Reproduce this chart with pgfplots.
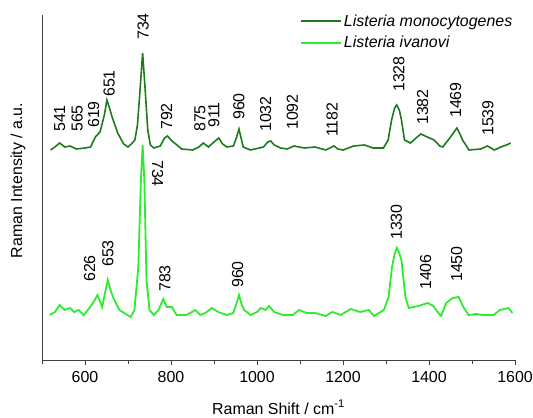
\documentclass[border=0pt]{standalone}
\usepackage{pgfplots}
\pgfplotsset{compat=1.18}
\usepackage{fontspec}
\setmainfont{Liberation Sans}
\definecolor{dkg}{RGB}{30,122,30}
\definecolor{ltg}{RGB}{45,235,45}
\begin{document}
\begin{tikzpicture}[font=\fontsize{16}{19}\selectfont]
\begin{axis}[
 at={(0,0)}, anchor=south west,
 scale only axis, width=473bp, height=345bp,
 xmin=500, xmax=1600, ymin=0, ymax=345,
 axis lines*=left,
 axis line style={draw=black!75, line width=1pt},
 ytick=\empty,
 xtick={600,800,...,1600},
 minor xtick={500,700,...,1500},
 tick align=outside,
 major tick length=5bp, minor tick length=4bp,
 tick style={black!75, line width=0.9pt},
 /pgf/number format/assume math mode=true,
 /pgf/number format/1000 sep={},
 xticklabel style={yshift=-3bp},
 xlabel={Raman Shift / cm\textsuperscript{-1}},
 ylabel={Raman Intensity / a.u.},
 xlabel style={at={(axis description cs:0.5,0)}, anchor=base, yshift=-54bp},
 ylabel style={at={(axis description cs:0,0.52)}, anchor=base, yshift=20bp},
 legend style={at={(axis description cs:0.546,1.005)}, anchor=north west, draw=none, fill=none,
   font=\itshape\fontsize{16}{19}\selectfont, row sep=5bp, inner sep=0pt, nodes={inner sep=1.5bp}},
 legend cell align=left,
 legend image code/.code={\draw[#1, line width=2pt] (0bp,0bp) -- (40bp,0bp);},
 clip=false,
]
\addplot[dkg, line width=1.6pt] coordinates {
(520,210) (530,213) (541,217) (553,213) (565,214) (580,211) (600,212) (613,213) (624,223) (635,228) (645,245) (651,260) (657,252) (663,243) (676,227) (690,216) (700,213) (710,217) (716,220) (722,235) (728,270) (734,307) (740,270) (746,230) (752,215) (760,212) (775,214) (785,222) (792,224) (800,220) (808,217) (825,211) (850,210) (865,213) (875,217) (887,213) (900,218) (911,222) (920,216) (930,213) (945,214) (952,222) (958,231) (963,222) (968,213) (985,210) (1015,213) (1025,218) (1032,219) (1040,215) (1055,212) (1070,211) (1086,214) (1110,212) (1135,213) (1160,210) (1179,214) (1188,211) (1200,210) (1225,214) (1250,215) (1270,212) (1294,212) (1305,220) (1313,240) (1320,252) (1325,255) (1331,250) (1336,240) (1343,220) (1357,217) (1370,222) (1381,226) (1396,223) (1412,220) (1425,214) (1432,213) (1450,223) (1465,232) (1472,226) (1478,220) (1493,210) (1520,211) (1536,214) (1552,210) (1567,213) (1580,215) (1590,217)
};
\addlegendentry{Listeria monocytogenes}
\addplot[ltg, line width=1.8pt] coordinates {
(518,45) (530,48) (541,55) (553,50) (565,52) (575,48) (585,50) (597,45) (612,53) (620,58) (629,65) (640,53) (647,68) (653,80) (658,72) (665,63) (680,50) (695,46) (706,43) (715,50) (724,93) (730,180) (734,215) (738,180) (743,80) (750,50) (760,45) (771,50) (782,61) (790,53) (802,53) (813,45) (836,45) (857,50) (868,45) (880,47) (895,52) (910,48) (930,45) (945,47) (952,56) (958,65) (964,56) (970,50) (985,45) (1000,48) (1009,52) (1020,50) (1028,54) (1040,48) (1060,45) (1083,45) (1098,50) (1115,47) (1135,47) (1160,44) (1175,48) (1195,45) (1218,51) (1240,48) (1260,50) (1272,44) (1295,50) (1306,63) (1314,93) (1320,106) (1325,112) (1330,108) (1336,100) (1345,63) (1353,52) (1375,54) (1397,57) (1410,54) (1420,48) (1428,44) (1440,57) (1455,62) (1469,63) (1480,53) (1492,45) (1510,46) (1525,45) (1550,45) (1565,50) (1585,52) (1594,47)
};
\addlegendentry{Listeria ivanovi}
% labels, upper spectrum
\begin{scope}[every node/.style={rotate=90, anchor=west, inner sep=0pt, font=\fontsize{16}{19}\selectfont}]
\node at (axis cs:541,228) {541};
\node at (axis cs:582,228) {565};
\node at (axis cs:620,232) {619};
\node at (axis cs:656,263) {651};
\node at (axis cs:735,320) {734};
\node at (axis cs:790,230) {792};
\node at (axis cs:867,228) {875};
\node at (axis cs:900,232) {911};
\node at (axis cs:958,240) {960};
\node at (axis cs:1020,228) {1032};
\node at (axis cs:1082,230) {1092};
\node at (axis cs:1175,223) {1182};
\node at (axis cs:1330,268) {1328};
\node at (axis cs:1385,235) {1382};
\node at (axis cs:1462,242) {1469};
\node at (axis cs:1537,224) {1539};
% lower spectrum
\node at (axis cs:611,78) {626};
\node at (axis cs:653,93) {653};
\node at (axis cs:786,68) {783};
\node at (axis cs:955,72) {960};
\node at (axis cs:1324,120) {1330};
\node at (axis cs:1392,70) {1406};
\node at (axis cs:1464,78) {1450};
\end{scope}
\node[rotate=-90, anchor=west, inner sep=0pt] at (axis cs:769,200) {734};
\end{axis}
\pgfresetboundingbox
\path (-42bp,-58bp) rectangle (491bp,360bp);
\end{tikzpicture}
\end{document}
